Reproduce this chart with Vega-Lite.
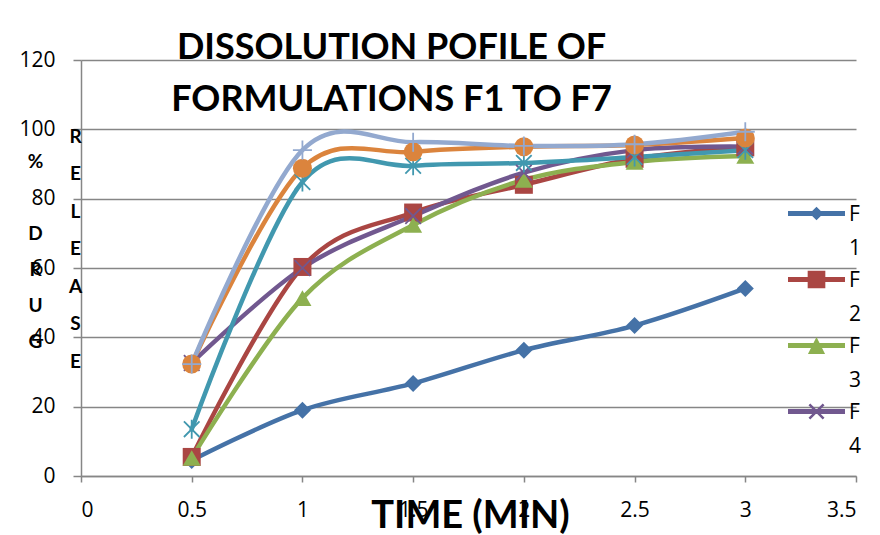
{
  "$schema": "https://vega.github.io/schema/vega-lite/v6.json",
  "width": 775,
  "height": 416,
  "autosize": {"type": "none"},
  "padding": {"left": 81, "top": 60, "right": 24, "bottom": 59},
  "background": "white",
  "config": {"view": {"stroke": null}, "font": "Lato"},
  "title": {
    "text": ["DISSOLUTION  POFILE OF", "FORMULATIONS  F1 TO F7"],
    "font": "Lato",
    "fontSize": 36,
    "fontWeight": "bold",
    "color": "black",
    "anchor": "middle",
    "baseline": "alphabetic",
    "lineHeight": 52,
    "offset": 0,
    "dy": 98,
    "dx": -77
  },
  "data": {
    "values": [
      {"series": "F1", "time": 0.5, "release": 4.5},
      {"series": "F1", "time": 1, "release": 19},
      {"series": "F1", "time": 1.5, "release": 26.7},
      {"series": "F1", "time": 2, "release": 36.3},
      {"series": "F1", "time": 2.5, "release": 43.4},
      {"series": "F1", "time": 3, "release": 54.1},
      {"series": "F2", "time": 0.5, "release": 5.5},
      {"series": "F2", "time": 1, "release": 60.3},
      {"series": "F2", "time": 1.5, "release": 76},
      {"series": "F2", "time": 2, "release": 84},
      {"series": "F2", "time": 2.5, "release": 91.5},
      {"series": "F2", "time": 3, "release": 94.8},
      {"series": "F3", "time": 0.5, "release": 5.2},
      {"series": "F3", "time": 1, "release": 51.3},
      {"series": "F3", "time": 1.5, "release": 72.4},
      {"series": "F3", "time": 2, "release": 85.4},
      {"series": "F3", "time": 2.5, "release": 90.6},
      {"series": "F3", "time": 3, "release": 92.3},
      {"series": "F4", "time": 0.5, "release": 32.6},
      {"series": "F4", "time": 1, "release": 60},
      {"series": "F4", "time": 1.5, "release": 75},
      {"series": "F4", "time": 2, "release": 87.5},
      {"series": "F4", "time": 2.5, "release": 94},
      {"series": "F4", "time": 3, "release": 95},
      {"series": "F5", "time": 0.5, "release": 13.5},
      {"series": "F5", "time": 1, "release": 84.8},
      {"series": "F5", "time": 1.5, "release": 89.5},
      {"series": "F5", "time": 2, "release": 90.3},
      {"series": "F5", "time": 2.5, "release": 92},
      {"series": "F5", "time": 3, "release": 94},
      {"series": "F6", "time": 0.5, "release": 32.3},
      {"series": "F6", "time": 1, "release": 88.8},
      {"series": "F6", "time": 1.5, "release": 93.5},
      {"series": "F6", "time": 2, "release": 95},
      {"series": "F6", "time": 2.5, "release": 95.5},
      {"series": "F6", "time": 3, "release": 97.5},
      {"series": "F7", "time": 0.5, "release": 32.3},
      {"series": "F7", "time": 1, "release": 94},
      {"series": "F7", "time": 1.5, "release": 96.3},
      {"series": "F7", "time": 2, "release": 95.2},
      {"series": "F7", "time": 2.5, "release": 95.7},
      {"series": "F7", "time": 3, "release": 99.3}
    ]
  },
  "layer": [
    {
      "mark": {"type": "line", "interpolate": "cardinal", "tension": 0, "strokeWidth": 4.5, "strokeCap": "round", "strokeJoin": "round"},
      "encoding": {
        "x": {
          "field": "time",
          "type": "quantitative",
          "scale": {"domain": [0, 3.5]},
          "axis": {
            "values": [0, 0.5, 1, 1.5, 2, 2.5, 3, 3.5],
            "labelExpr": "'' + datum.value",
            "grid": false,
            "tickSize": 6,
            "tickColor": "#868686",
            "tickWidth": 1.5,
            "domainColor": "#868686",
            "domainWidth": 1.5,
            "labelPadding": 17,
            "labelFont": "Open Sans",
            "labelFontSize": 21,
            "labelColor": "black",
            "labelOverlap": false,
            "title": "TIME (MIN)",
            "titleFont": "Lato",
            "titleFontSize": 38,
            "titleFontWeight": "bold",
            "titleColor": "black",
            "titleBaseline": "alphabetic",
            "titleAlign": "center",
            "titleX": 389,
            "titleY": 51
          }
        },
        "y": {
          "field": "release",
          "type": "quantitative",
          "scale": {"domain": [0, 120]},
          "axis": {
            "values": [0, 20, 40, 60, 80, 100, 120],
            "grid": true,
            "gridColor": "#868686",
            "gridWidth": 1.5,
            "tickSize": 8,
            "tickColor": "#868686",
            "tickWidth": 1.5,
            "domainColor": "#868686",
            "domainWidth": 1.5,
            "labelPadding": 18,
            "labelFont": "Open Sans",
            "labelFontSize": 21,
            "labelColor": "black",
            "title": ["R", "E", "L", "E", "A", "S", "E"],
            "titleFont": "Lato",
            "titleFontSize": 19,
            "titleFontWeight": "bold",
            "titleColor": "black",
            "titleAngle": 0,
            "titleAlign": "center",
            "titleBaseline": "alphabetic",
            "titleLineHeight": 37.5,
            "titleX": -6,
            "titleY": 82
          }
        },
        "color": {
          "field": "series",
          "type": "nominal",
          "scale": {
            "domain": ["F1", "F2", "F3", "F4", "F5", "F6", "F7"],
            "range": ["#4572A7", "#AA4643", "#8DB050", "#71588F", "#4198AF", "#DB843D", "#93A9CF"]
          },
          "legend": {
            "orient": "none",
            "legendX": 707,
            "legendY": 132.5,
            "title": null,
            "values": ["F1", "F2", "F3", "F4"],
            "padding": 0,
            "symbolSize": 3249,
            "clipHeight": 42,
            "rowPadding": 0,
            "labelOffset": 4,
            "labelFont": "Open Sans",
            "labelFontSize": 21,
            "labelColor": "black",
            "labelBaseline": "alphabetic",
            "labelExpr": "[slice(datum.label, 0, 1), slice(datum.label, 1)]",
            "encode": {
              "symbols": {
                "update": {
                  "shape": {"signal": "datum.value === 'F1' ? 'M-1,-0.088H1V0.088H-1Z M0,-0.24L0.24,0L0,0.24L-0.24,0Z' : datum.value === 'F2' ? 'M-1,-0.088H1V0.088H-1Z M-0.31,-0.31H0.31V0.31H-0.31Z' : datum.value === 'F3' ? 'M-1,-0.088H1V0.088H-1Z M0,-0.3L0.3,0.3H-0.3Z' : 'M-1,-0.088H1V0.088H-1Z M-0.219,-0.281L0.281,0.219L0.219,0.281L-0.281,-0.219Z M-0.281,0.219L0.219,-0.281L0.281,-0.219L-0.219,0.281Z'"},
                  "fill": {"scale": "color", "field": "value"},
                  "stroke": {"value": "transparent"},
                  "strokeWidth": {"value": 0},
                  "opacity": {"value": 1},
                  "size": {"value": 3249}
                }
              },
              "labels": {
                "update": {
                  "dy": {"value": 7},
                  "lineHeight": {"value": 34}
                }
              }
            }
          }
        }
      }
    },
    {
      "transform": [{"filter": "datum.series === 'F1'"}],
      "mark": {"type": "point", "shape": "diamond", "filled": true, "color": "#4572A7", "size": 289, "opacity": 1},
      "encoding": {
        "x": {"field": "time", "type": "quantitative"},
        "y": {
          "field": "release",
          "type": "quantitative",
          "axis": {
            "orient": "left",
            "labels": false,
            "ticks": false,
            "domain": false,
            "grid": false,
            "title": ["%", "\u200b", "D", "R", "U", "G"],
            "titleFont": "Lato",
            "titleFontSize": 19,
            "titleFontWeight": "bold",
            "titleColor": "black",
            "titleAngle": 0,
            "titleAlign": "center",
            "titleBaseline": "alphabetic",
            "titleLineHeight": 36,
            "titleX": -46,
            "titleY": 107
          }
        }
      }
    },
    {
      "transform": [{"filter": "datum.series === 'F2'"}],
      "mark": {"type": "point", "shape": "square", "filled": true, "color": "#AA4643", "size": 324, "opacity": 1},
      "encoding": {
        "x": {"field": "time", "type": "quantitative"},
        "y": {"field": "release", "type": "quantitative", "axis": null}
      }
    },
    {
      "transform": [{"filter": "datum.series === 'F3'"}],
      "mark": {"type": "point", "shape": "triangle-up", "filled": true, "color": "#8DB050", "size": 324, "opacity": 1},
      "encoding": {
        "x": {"field": "time", "type": "quantitative"},
        "y": {"field": "release", "type": "quantitative", "axis": null}
      }
    },
    {
      "transform": [{"filter": "datum.series === 'F4'"}],
      "mark": {"type": "point", "shape": "M-0.9,-0.9L0.9,0.9M-0.9,0.9L0.9,-0.9", "filled": false, "color": "#71588F", "strokeWidth": 1.8, "size": 300, "opacity": 1},
      "encoding": {
        "x": {"field": "time", "type": "quantitative"},
        "y": {"field": "release", "type": "quantitative", "axis": null}
      }
    },
    {
      "transform": [{"filter": "datum.series === 'F5'"}],
      "mark": {"type": "point", "shape": "M-0.9,-0.9L0.9,0.9M-0.9,0.9L0.9,-0.9M0,-1.1V1.1", "filled": false, "color": "#4198AF", "strokeWidth": 1.8, "size": 300, "opacity": 1},
      "encoding": {
        "x": {"field": "time", "type": "quantitative"},
        "y": {"field": "release", "type": "quantitative", "axis": null}
      }
    },
    {
      "transform": [{"filter": "datum.series === 'F6'"}],
      "mark": {"type": "point", "shape": "circle", "filled": true, "color": "#DB843D", "size": 361, "opacity": 1},
      "encoding": {
        "x": {"field": "time", "type": "quantitative"},
        "y": {"field": "release", "type": "quantitative", "axis": null}
      }
    },
    {
      "transform": [{"filter": "datum.series === 'F7'"}],
      "mark": {"type": "point", "shape": "M-1.1,0H1.1M0,-1.1V1.1", "filled": false, "color": "#93A9CF", "strokeWidth": 1.8, "size": 300, "opacity": 1},
      "encoding": {
        "x": {"field": "time", "type": "quantitative"},
        "y": {"field": "release", "type": "quantitative", "axis": null}
      }
    }
  ],
  "resolve": {"axis": {"y": "independent"}}
}
